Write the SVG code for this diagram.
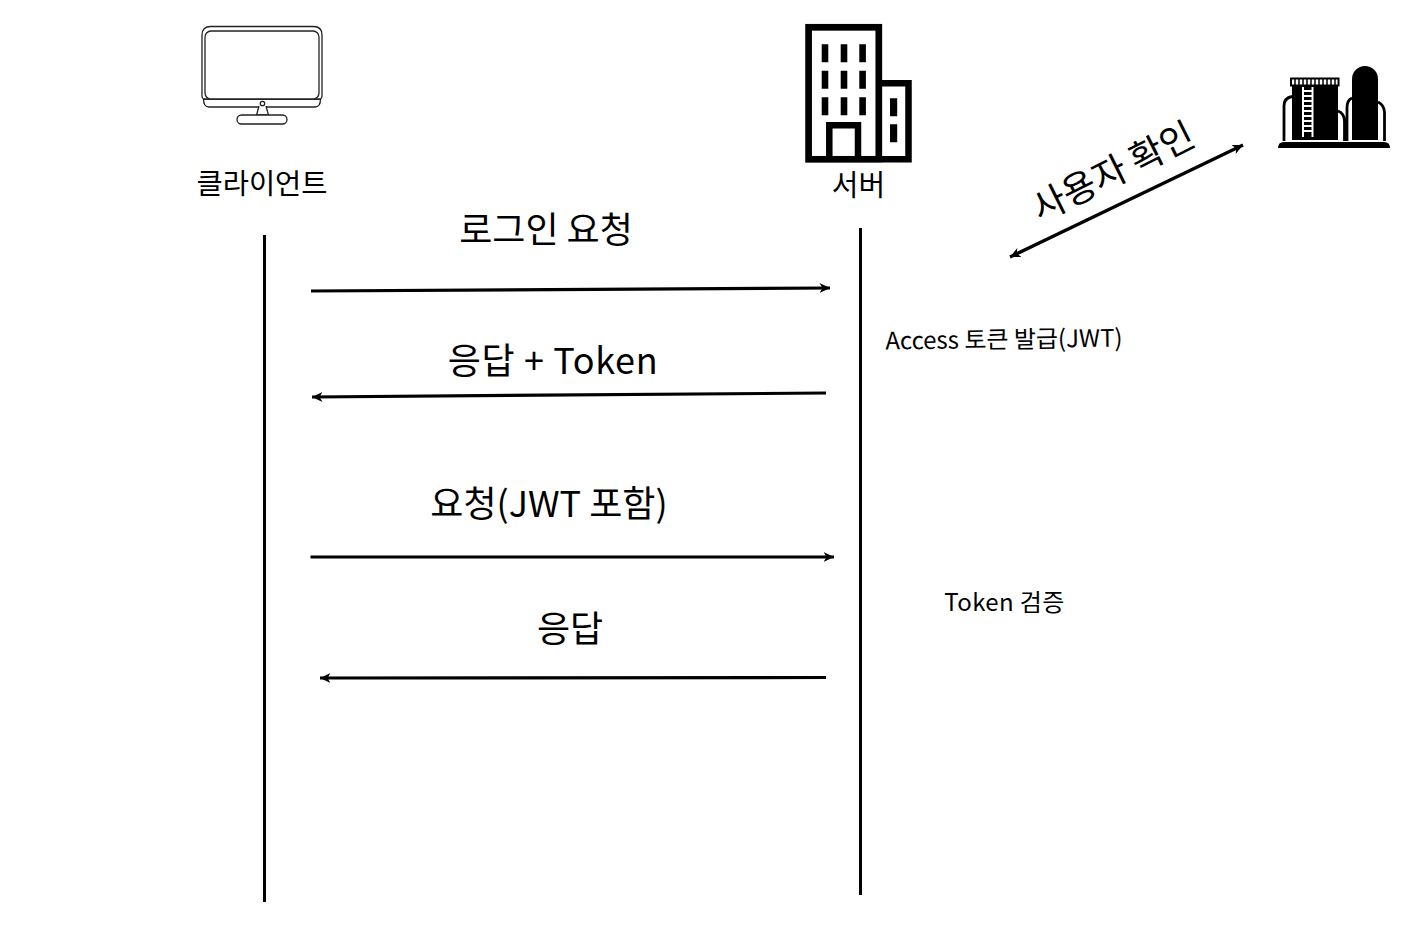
<svg xmlns="http://www.w3.org/2000/svg" width="1404" height="942" viewBox="0 0 1404 942">
<defs>
<marker id="ah" markerUnits="userSpaceOnUse" markerWidth="14" markerHeight="12" refX="10.500" refY="5.500" orient="auto-start-reverse"><path d="M0 0.500L10.500 5.500L0 10.500L3 5.500Z" fill="#000"/></marker>
</defs>
<style>
text{font-family:"Noto Sans CJK KR","Noto Sans",sans-serif;fill:#000}
.life{stroke:#000;stroke-width:3;fill:none}
.msg{stroke:#000;stroke-width:3.200;fill:none;marker-end:url(#ah)}
.thin{stroke:#222;stroke-width:1.300;fill:#fff}
</style>
<rect width="1404" height="942" fill="#fff"/>
<g id="client">
<path class="thin" d="M203.500 99Q203.500 107 209 107H315Q320.500 107 320.500 99Z"/>
<path class="thin" d="M202 96V35Q202 26.500 210.500 26.500H313.500Q322 26.500 322 35V96Q322 98 320.500 99H203.500Q202 98 202 96Z"/>
<rect class="thin" x="205" y="31" width="114" height="68" rx="6"/>
<path class="thin" d="M259 106L256.500 115H268.500L266 106" fill="none"/>
<circle class="thin" cx="262.500" cy="103.500" r="2.200"/>
<rect class="thin" x="237" y="115" width="50" height="9" rx="4.500"/>
<text x="262" y="194" font-size="28.500" text-anchor="middle">클라이언트</text>
</g>
<g id="server">
<path d="M882 83.300H908.500V159.300H882" fill="#fff" stroke="#000" stroke-width="6.500"/>
<rect x="808.600" y="27.300" width="70.200" height="132" fill="#fff" stroke="#000" stroke-width="6.700"/>
<path d="M829.300 159V125.200H858V159" fill="none" stroke="#000" stroke-width="6.500"/>
<path d="M821.700 44.300h6.600v18h-6.600zM840.700 44.300h6.600v18h-6.600zM859.300 44.300h6.600v18h-6.600zM821.700 70.700h6.600v18h-6.600zM840.700 70.700h6.600v18h-6.600zM859.300 70.700h6.600v18h-6.600zM821.700 97.300h6.600v18h-6.600zM840.700 97.300h6.600v18h-6.600zM859.300 97.300h6.600v18h-6.600zM890 98.300h7.200v18h-7.200zM890 124.300h7.200v18h-7.200z" fill="#000"/>
<text x="858.500" y="196" font-size="29" text-anchor="middle">서버</text>
</g>
<g id="database">
<path d="M1292 86H1338V140H1292Z" fill="#000"/>
<rect x="1291" y="78.500" width="47.500" height="7" fill="#fff" stroke="#000" stroke-width="2"/>
<path d="M1295 78v7M1299 78v7M1303 78v7M1307 78v7M1311 78v7M1315 78v7M1319 78v7M1323 78v7M1327 78v7M1331 78v7M1335 78v7" stroke="#000" stroke-width="1.500"/>
<path d="M1303 87V137M1312.500 87V137" stroke="#fff" stroke-width="2"/>
<path d="M1303 91H1312.500M1303 96H1312.500M1303 101H1312.500M1303 106H1312.500M1303 111H1312.500M1303 116H1312.500M1303 121H1312.500M1303 126H1312.500M1303 131H1312.500" stroke="#fff" stroke-width="2"/>
<path d="M1352 140V79A13 13 0 0 1 1378 79V140Z" fill="#000"/>
<path d="M1284 141V106Q1284 98 1292 96.500M1338 111Q1344 113 1344.500 121V141M1347 141V108Q1347 100 1352 98M1378 102Q1384 105 1384.500 112V141" fill="none" stroke="#000" stroke-width="2.800"/>
<path d="M1278 148Q1278 142 1284 142H1384Q1390 142 1390 148Z" fill="#000"/>
</g>
<g id="connectors">
<path class="life" d="M264.500 235V902"/>
<path class="life" d="M860.500 228V895"/>
<path class="msg" d="M311 291L830 288"/>
<path class="msg" d="M826 393L312 397"/>
<path class="msg" d="M310.500 557H834"/>
<path class="msg" d="M826 677.500L320 678"/>
<path class="msg" style="marker-start:url(#ah)" d="M1010 257L1243 145"/>
</g>
<g id="labels">
<text x="546" y="243" font-size="36" text-anchor="middle">로그인 요청</text>
<text x="553" y="374" font-size="36" letter-spacing="0.650" text-anchor="middle">응답 + Token</text>
<text x="549" y="517" font-size="36" text-anchor="middle">요청(JWT 포함)</text>
<text x="570" y="642" font-size="36" text-anchor="middle">응답</text>
<text transform="translate(1113.500 172.500) rotate(-26.500)" font-size="36.500" text-anchor="middle" y="12">사용자 확인</text>
<text transform="translate(1004 348) rotate(-0.700)" font-size="24" text-anchor="middle">Access 토큰 발급(JWT)</text>
<text x="1004.500" y="611" font-size="24" letter-spacing="0.400" text-anchor="middle">Token 검증</text>
</g>
</svg>
